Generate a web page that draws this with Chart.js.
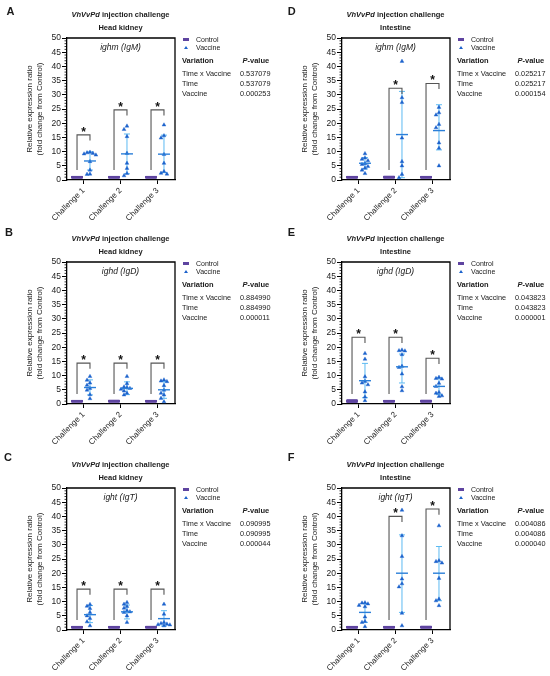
<!DOCTYPE html>
<html>
<head>
<meta charset="utf-8">
<script src="https://cdn.jsdelivr.net/npm/chart.js@4.4.1/dist/chart.umd.min.js"></script>
<style>
  html, body { margin: 0; padding: 0; background: #fff; }
  body { width: 550px; height: 676px; position: relative; overflow: hidden;
         font-family: Arial, "Liberation Sans", sans-serif; color: #1a1a1a; }
  .panel { position: absolute; width: 275px; height: 225px; }
  .panel canvas { position: absolute; left: 0; top: 0; }
  .lbl { position: absolute; white-space: nowrap; line-height: 1; }
  .mid { transform: translate(-50%, -50%); }
  .vmid { transform: translateY(-50%); }
  .letter { font-size: 11px; font-weight: bold; }
  .title { font-size: 7.5px; font-weight: bold; }
  .gene { font-size: 8.5px; font-style: italic; }
  .leg { font-size: 7px; }
  .thead { font-size: 7.5px; font-weight: bold; }
  .trow { font-size: 7.3px; }
  .dash { position: absolute; width: 6px; height: 2.5px; background: #5e44a0; }
  .tri { position: absolute; width: 0; height: 0; border-left: 2px solid transparent;
         border-right: 2px solid transparent; border-bottom: 3.5px solid #1c62cc; }
</style>
</head>
<body>
<script>
const challenges = ["Challenge 1", "Challenge 2", "Challenge 3"];
const yTickValues = [0, 5, 10, 15, 20, 25, 30, 35, 40, 45, 50];
const variations = ["Time x Vaccine", "Time", "Vaccine"];
const panelLetters = ["A", "B", "C", "D", "E", "F"];
const tissues = ["Head kidney", "Head kidney", "Head kidney", "Intestine", "Intestine", "Intestine"];
const genes = ["ighm (IgM)", "ighd (IgD)", "ight (IgT)", "ighm (IgM)", "ighd (IgD)", "ight (IgT)"];

// panel A - head kidney ighm
const controlA = [[0.95, 1.0, 1.0, 1.0, 1.0, 1.05], [0.95, 1.0, 1.0, 1.0, 1.0, 1.05], [0.95, 1.0, 1.0, 1.0, 1.0, 1.05]];
const vaccineA = [[9.8, 9.6, 9.4, 9.2, 8.8, 6.5, 3.5, 2.1, 2.0], [19.0, 17.8, 15.3, 9.4, 5.9, 4.1, 2.3, 1.5], [19.4, 15.6, 14.8, 9.0, 5.9, 3.0, 2.4, 2.1]];
const meanA = [6.7, 9.2, 9.1];
const lowA = [3.5, 2.2, 2.6];
const highA = [9.9, 16.2, 15.8];
const bracketA = [15.9, 24.7, 24.7];
const pValuesA = ["0.537079", "0.537079", "0.000253"];

// panel B - head kidney ighd
const controlB = [[0.95, 1.0, 1.0, 1.0, 1.0, 1.05], [0.9, 1.0, 1.0, 1.0, 1.05, 1.1], [0.95, 1.0, 1.0, 1.0, 1.0, 1.05]];
const vaccineB = [[9.7, 8.4, 7.4, 6.6, 5.5, 4.9, 3.3, 1.9], [9.7, 7.2, 6.0, 5.8, 5.5, 5.2, 4.6, 3.8, 3.2], [8.5, 8.1, 7.9, 6.5, 4.9, 3.8, 3.2, 2.0, 0.8]];
const meanB = [5.8, 5.5, 5.0];
const lowB = [3.2, 3.3, 2.0];
const highB = [8.5, 7.8, 7.9];
const bracketB = [14.4, 14.4, 14.4];
const pValuesB = ["0.884990", "0.884990", "0.000011"];

// panel C - head kidney ight
const controlC = [[0.95, 1.0, 1.0, 1.0, 1.0, 1.05], [0.95, 1.0, 1.0, 1.0, 1.0, 1.05], [0.95, 1.0, 1.0, 1.0, 1.05, 1.05]];
const vaccineC = [[9.0, 8.4, 7.6, 6.2, 5.0, 4.1, 2.9, 1.5], [9.7, 9.1, 8.3, 7.7, 6.8, 6.4, 6.2, 5.0, 2.7], [9.1, 5.6, 2.7, 2.3, 2.1, 1.9, 1.8, 1.5]];
const meanC = [5.4, 6.4, 4.0];
const lowC = [2.6, 3.9, 1.4];
const highC = [8.6, 8.8, 6.8];
const bracketC = [14.4, 14.4, 14.4];
const pValuesC = ["0.090995", "0.090995", "0.000044"];

// panel D - intestine ighm
const controlD = [[0.95, 1.0, 1.0, 1.0, 1.0, 1.05], [0.9, 1.0, 1.0, 1.0, 1.05, 1.1], [0.95, 1.0, 1.0, 1.0, 1.0, 1.05]];
const vaccineD = [[9.3, 7.8, 7.3, 6.8, 5.8, 5.5, 4.8, 4.2, 3.5, 2.3], [41.8, 29.0, 27.3, 14.8, 6.5, 5.0, 2.0, 0.8], [25.6, 23.7, 22.9, 19.6, 18.4, 13.1, 11.2, 5.0]];
const meanD = [5.9, 16.0, 17.4];
const lowD = [3.9, 0.8, 10.6];
const highD = [7.9, 31.2, 26.5];
const bracketD = [null, 32.3, 34.0];
const pValuesD = ["0.025217", "0.025217", "0.000154"];

// panel E - intestine ighd
const controlE = [[0.8, 0.95, 1.0, 1.0, 1.1, 1.3], [0.95, 1.0, 1.0, 1.0, 1.0, 1.05], [0.9, 1.0, 1.0, 1.0, 1.05, 1.1]];
const vaccineE = [[17.8, 15.8, 9.6, 8.0, 7.4, 6.8, 4.3, 2.5, 1.2], [19.0, 18.8, 18.7, 17.4, 13.3, 12.9, 10.6, 6.1, 4.7], [9.4, 9.0, 8.8, 7.3, 6.2, 4.1, 3.8, 2.9, 2.7]];
const meanE = [8.2, 13.1, 6.2];
const lowE = [2.2, 7.4, 3.3];
const highE = [14.3, 17.6, 9.2];
const bracketE = [23.5, 23.5, 16.1];
const pValuesE = ["0.043823", "0.043823", "0.000001"];

// panel F - intestine ight
const controlF = [[0.95, 1.0, 1.0, 1.0, 1.0, 1.05], [0.95, 1.0, 1.0, 1.0, 1.0, 1.05], [0.9, 1.0, 1.0, 1.0, 1.05, 1.1]];
const vaccineF = [[9.6, 9.5, 9.2, 8.7, 8.2, 4.6, 3.0, 2.7, 1.2], [42.2, 33.2, 25.9, 18.0, 16.3, 15.2, 5.9, 1.5], [36.7, 24.4, 24.1, 23.6, 18.2, 10.9, 10.3, 8.6]];
const meanF = [6.2, 20.0, 20.0];
const lowF = [2.7, 6.2, 10.3];
const highF = [9.3, 33.5, 29.4];
const bracketF = [null, 40.0, 42.6];
const pValuesF = ["0.004086", "0.004086", "0.000040"];

const PURPLE = "#5e44a0";
const BLUE = "#1c62cc";
const MEAN_BLUE = "#2b7fd9";
const ERR_BLUE = "#5cbaf2";
const OFF = 0.175;

Chart.defaults.font.family = 'Arial, "Liberation Sans", sans-serif';
Chart.defaults.color = "#222";

const panels = [
  { left: 0, top: 0, lx: 6.5, ly: 11, control: controlA, vaccine: vaccineA, mean: meanA, low: lowA, high: highA, brackets: bracketA, pvals: pValuesA },
  { left: 0, top: 224, lx: 5, ly: 7.5, control: controlB, vaccine: vaccineB, mean: meanB, low: lowB, high: highB, brackets: bracketB, pvals: pValuesB },
  { left: 0, top: 450, lx: 4, ly: 6.7, control: controlC, vaccine: vaccineC, mean: meanC, low: lowC, high: highC, brackets: bracketC, pvals: pValuesC },
  { left: 275, top: 0, lx: 12.7, ly: 10.7, control: controlD, vaccine: vaccineD, mean: meanD, low: lowD, high: highD, brackets: bracketD, pvals: pValuesD },
  { left: 275, top: 224, lx: 12.7, ly: 7.7, control: controlE, vaccine: vaccineE, mean: meanE, low: lowE, high: highE, brackets: bracketE, pvals: pValuesE },
  { left: 275, top: 450, lx: 12.7, ly: 6.7, control: controlF, vaccine: vaccineF, mean: meanF, low: lowF, high: highF, brackets: bracketF, pvals: pValuesF }
];

// simple beeswarm so close values sit side by side
function spread(values, center, step) {
  const placed = [];
  const order = [0, -1, 1, -2, 2];
  return values.map((v) => {
    const k = order.find((o) => !placed.some((p) => p.o === o && Math.abs(p.y - v) < 1.3));
    const slot = k === undefined ? 0 : k;
    placed.push({ y: v, o: slot });
    return { x: center + slot * step, y: v };
  });
}

function addText(parent, html, x, y, cls) {
  const el = document.createElement("div");
  el.className = "lbl " + cls;
  el.style.left = x + "px";
  el.style.top = y + "px";
  el.innerHTML = html;
  parent.appendChild(el);
  return el;
}

function makePlugin(p) {
  return {
    id: "groups",
    beforeDatasetsDraw(chart) {
      const { ctx, scales: { x, y } } = chart;
      ctx.save();
      ctx.strokeStyle = ERR_BLUE;
      ctx.lineWidth = 1;
      p.mean.forEach((m, i) => {
        const cx = x.getPixelForValue(i + 1 + OFF);
        const yl = y.getPixelForValue(p.low[i]);
        const yh = y.getPixelForValue(p.high[i]);
        ctx.beginPath();
        ctx.moveTo(cx, yl); ctx.lineTo(cx, yh);
        ctx.moveTo(cx - 3, yl); ctx.lineTo(cx + 3, yl);
        ctx.moveTo(cx - 3, yh); ctx.lineTo(cx + 3, yh);
        ctx.stroke();
      });
      ctx.restore();
    },
    afterDatasetsDraw(chart) {
      const { ctx, chartArea: area, scales: { x, y } } = chart;
      ctx.save();
      // mean lines
      p.mean.forEach((m, i) => {
        const cx = x.getPixelForValue(i + 1 + OFF);
        const cy = y.getPixelForValue(m);
        ctx.strokeStyle = MEAN_BLUE;
        ctx.lineWidth = 1.4;
        ctx.beginPath();
        ctx.moveTo(cx - 6, cy); ctx.lineTo(cx + 6, cy);
        ctx.stroke();
      });
      // brackets and stars
      p.brackets.forEach((top, i) => {
        if (top === null) return;
        const xl = x.getPixelForValue(i + 1 - OFF);
        const xr = x.getPixelForValue(i + 1 + OFF);
        const yt = y.getPixelForValue(top);
        ctx.strokeStyle = "#555";
        ctx.lineWidth = 1.1;
        ctx.beginPath();
        ctx.moveTo(xl, y.getPixelForValue(3.5));
        ctx.lineTo(xl, yt);
        ctx.lineTo(xr, yt);
        ctx.lineTo(xr, y.getPixelForValue(top - 2));
        ctx.stroke();
        ctx.fillStyle = "#111";
        ctx.font = 'bold 12px Arial, "Liberation Sans", sans-serif';
        ctx.textAlign = "center";
        ctx.textBaseline = "alphabetic";
        ctx.fillText("*", (xl + xr) / 2, yt + 1);
      });
      // frame top/right and minor ticks
      ctx.strokeStyle = "#000";
      ctx.lineWidth = 1.3;
      ctx.beginPath();
      ctx.moveTo(area.left, area.top); ctx.lineTo(area.right, area.top);
      ctx.lineTo(area.right, area.bottom);
      ctx.stroke();
      ctx.lineWidth = 0.8;
      ctx.beginPath();
      for (let v = 1; v < 50; v++) {
        if (v % 5 === 0) continue;
        const yy = y.getPixelForValue(v);
        ctx.moveTo(area.left - 2.5, yy); ctx.lineTo(area.left, yy);
      }
      ctx.stroke();
      ctx.restore();
    }
  };
}

panels.forEach((p, idx) => {
  const box = document.createElement("div");
  box.className = "panel";
  box.style.left = p.left + "px";
  box.style.top = p.top + "px";
  document.body.appendChild(box);

  const canvas = document.createElement("canvas");
  canvas.width = 275;
  canvas.height = 225;
  box.appendChild(canvas);

  addText(box, panelLetters[idx], p.lx, p.ly, "letter vmid");
  addText(box, "<i>VhVvPd</i> injection challenge", 120.5, 15, "title mid");
  addText(box, tissues[idx], 120.5, 28, "title mid");
  addText(box, genes[idx], 120.5, 47, "gene mid");

  const dash = document.createElement("div");
  dash.className = "dash";
  dash.style.left = "182.5px";
  dash.style.top = "38px";
  box.appendChild(dash);
  const tri = document.createElement("div");
  tri.className = "tri";
  tri.style.left = "183.5px";
  tri.style.top = "45.5px";
  box.appendChild(tri);
  addText(box, "Control", 196, 39.3, "leg vmid");
  addText(box, "Vaccine", 196, 47.3, "leg vmid");

  addText(box, "Variation", 182, 61, "thead vmid");
  addText(box, "<i>P</i>-value", 242.5, 61, "thead vmid");
  variations.forEach((name, r) => {
    addText(box, name, 182, 74 + r * 10, "trow vmid");
    addText(box, p.pvals[r], 240, 74 + r * 10, "trow vmid");
  });

  const controlPoints = [];
  const vaccinePoints = [];
  challenges.forEach((c, i) => {
    p.control[i].forEach((v) => controlPoints.push({ x: i + 1 - OFF, y: v }));
    vaccinePoints.push(...spread(p.vaccine[i], i + 1 + OFF, 0.08));
  });

  new Chart(canvas, {
    type: "scatter",
    data: {
      datasets: [
        {
          label: "Control",
          data: controlPoints,
          pointStyle: "line",
          pointRadius: 5.5,
          borderColor: PURPLE,
          backgroundColor: PURPLE,
          pointBorderWidth: 2.2
        },
        {
          label: "Vaccine",
          data: vaccinePoints,
          pointStyle: "triangle",
          pointRadius: 2.2,
          borderColor: BLUE,
          backgroundColor: BLUE,
          pointBorderWidth: 0.4
        }
      ]
    },
    options: {
      responsive: false,
      animation: false,
      layout: { padding: { top: 38, right: 100, left: 0, bottom: 0 } },
      plugins: { legend: { display: false }, tooltip: { enabled: false } },
      scales: {
        x: {
          type: "linear",
          min: 0.554,
          max: 3.473,
          afterBuildTicks: (scale) => { scale.ticks = challenges.map((c, i) => ({ value: i + 1 })); },
          afterFit: (scale) => { scale.height = 45; },
          border: { color: "#000", width: 1.3 },
          grid: { drawOnChartArea: false, tickLength: 4, tickColor: "#000", tickWidth: 1 },
          ticks: {
            autoSkip: false,
            minRotation: 45,
            maxRotation: 45,
            padding: 2,
            font: { size: 8 },
            callback: (v) => challenges[Math.round(v) - 1]
          }
        },
        y: {
          min: 0,
          max: 50,
          afterBuildTicks: (scale) => { scale.ticks = yTickValues.map((v) => ({ value: v })); },
          afterFit: (scale) => { scale.width = 67; },
          border: { color: "#000", width: 1.3 },
          grid: { drawOnChartArea: false, tickLength: 5, tickColor: "#000", tickWidth: 1 },
          ticks: { padding: 1, font: { size: 8.5 } },
          title: {
            display: true,
            text: ["Relative expression ratio", "(fold change from Control)"],
            font: { size: 8 },
            padding: { top: 25, bottom: 0 }
          }
        }
      }
    },
    plugins: [makePlugin(p)]
  });
});
</script>
</body>
</html>
